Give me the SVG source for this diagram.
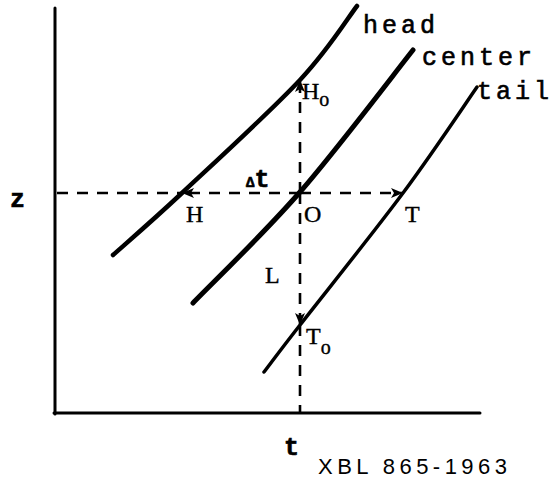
<svg xmlns="http://www.w3.org/2000/svg" width="557" height="480" viewBox="0 0 557 480">
<defs>
<style>
.axis{stroke:#000;stroke-width:3;fill:none;stroke-linecap:round}
.curve{stroke:#000;fill:none;stroke-linecap:round}
.dash{stroke:#000;stroke-width:2.6;fill:none;stroke-dasharray:11 9}
.lbl{font-family:"Liberation Mono",monospace;font-size:25px;fill:#000;stroke:#000;stroke-width:0.6}
.cap{font-family:"Liberation Serif",serif;font-size:24px;fill:#000;stroke:#000;stroke-width:0.4}
</style>
<marker id="arr" viewBox="0 0 12 10" refX="11" refY="5" markerWidth="12" markerHeight="10" markerUnits="userSpaceOnUse" orient="auto">
<path d="M0,0 L12,5 L0,10 L3,5 z" fill="#000"/>
</marker>
</defs>
<rect width="557" height="480" fill="#fff"/>
<g id="axes">
<line class="axis" x1="55" y1="8" x2="55" y2="414"/>
<line class="axis" x1="54" y1="413" x2="480" y2="413"/>
</g>
<g id="curves">
<path id="head-curve" class="curve" stroke-width="4.5" d="M113,255 C124.5,244.7 150.8,222.2 182,193 C213.2,163.8 270.8,111.2 300,80 C329.2,48.8 347.5,18.3 357,6"/>
<path id="center-curve" class="curve" stroke-width="5" d="M193,303 C210.8,284.5 263.3,234.2 300,192 C336.7,149.8 394.2,73.7 413,50"/>
<path id="tail-curve" class="curve" stroke-width="3.5" d="M264,372 C270,364.2 276.8,354.8 300,325 C323.2,295.2 373.5,232.7 403,193 C432.5,153.3 464.7,104.7 477,87"/>
</g>
<g id="connectors">
<line class="dash" x1="57" y1="193" x2="182" y2="193"/>
<line class="dash" x1="300" y1="193" x2="183" y2="193" marker-end="url(#arr)"/>
<line class="dash" x1="300" y1="193" x2="402" y2="193" marker-end="url(#arr)"/>
<line class="dash" x1="300" y1="193" x2="300" y2="81" marker-end="url(#arr)"/>
<line class="dash" x1="300" y1="193" x2="300" y2="324" marker-end="url(#arr)"/>
<line class="dash" x1="300" y1="325" x2="300" y2="413"/>
</g>
<g id="labels">
<text class="lbl" x="363" y="33" letter-spacing="4">head</text>
<text class="lbl" x="422" y="65" letter-spacing="4">center</text>
<text class="lbl" x="477" y="99" letter-spacing="4">tail</text>
<text class="cap" x="302" y="99">H<tspan font-size="20" dy="7">o</tspan></text>
<text class="cap" x="306" y="344">T<tspan font-size="20" dy="10">o</tspan></text>
<text class="cap" x="186" y="222">H</text>
<text class="cap" x="304" y="222">O</text>
<text class="cap" x="405" y="222">T</text>
<text class="cap" x="265" y="283">L</text>
<text class="lbl" x="246" y="187" font-weight="bold"><tspan font-size="14">Δ</tspan>t</text>
<text class="lbl" x="10" y="207" font-weight="bold">z</text>
<text class="lbl" x="284" y="455" font-weight="bold">t</text>
<text x="318" y="474" font-family="Liberation Sans, sans-serif" font-size="22" textLength="189" lengthAdjust="spacing">XBL 865-1963</text>
</g>
</svg>
